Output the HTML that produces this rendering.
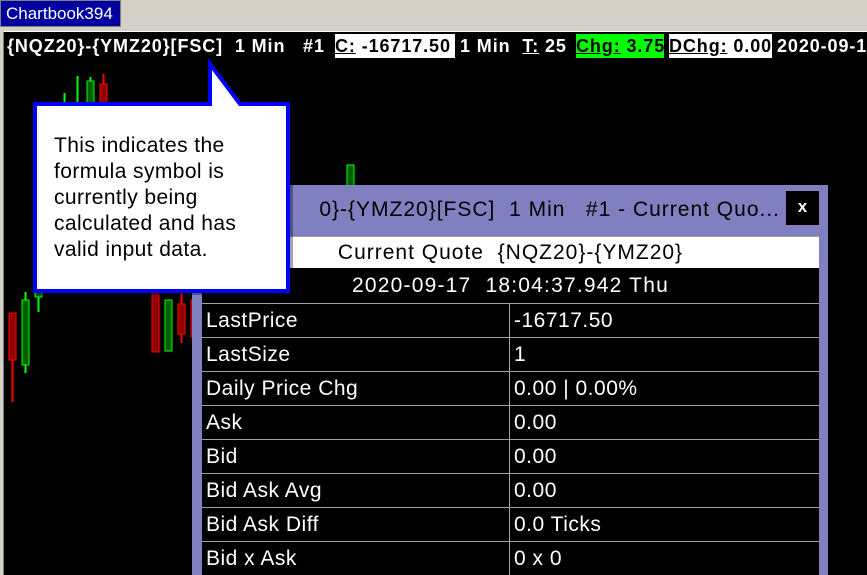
<!DOCTYPE html>
<html><head><meta charset="utf-8">
<style>
*{margin:0;padding:0;box-sizing:border-box}
body{width:867px;height:575px;overflow:hidden;background:#d4d0c8;position:relative;font-family:"Liberation Sans",sans-serif}
.abs{position:absolute}
#chart{left:3px;top:31px;width:864px;height:544px;background:#000;border-top:1px solid #fff;border-left:1px solid #808080}
.hd{position:absolute;top:34px;height:24px;font-weight:bold;font-size:18px;letter-spacing:0.9px;line-height:25px;white-space:pre;color:#fff;overflow:hidden}
.row{position:absolute;left:202px;width:617px;height:34px;border-top:1px solid #a0a0a0;color:#fff;font-size:21px;letter-spacing:0.5px;line-height:33px}
.row span{position:absolute;top:0}
</style></head><body>
<div class="abs" style="left:0;top:0;width:121px;height:27px;background:#0000a0;border:1px solid #808080;color:#fff;font-size:17px;line-height:25px;padding-left:5px">Chartbook394</div>
<div id="chart" class="abs"></div>
<svg class="abs" style="left:0;top:0" width="867" height="575" id="cs"></svg>
<div class="hd" style="left:7px">{NQZ20}-{YMZ20}[FSC]  1 Min   #1</div>
<div class="hd" style="left:335px;width:120px;background:#fff;color:#000"><u>C:</u> -16717.50</div>
<div class="hd" style="left:460px">1 Min  <u>T:</u> 25</div>
<div class="hd" style="left:576px;background:#00ff00;color:#000;width:88px"><u>Chg:</u> 3.75</div>
<div class="hd" style="left:669px;background:#fff;color:#000;width:103px"><u>DChg:</u> 0.00</div>
<div class="hd" style="left:777px">2020-09-17</div>

<div class="abs" style="left:192px;top:185px;width:636px;height:390px;background:#8080c0">
<div class="abs" style="left:0;top:0;width:594px;height:50px;overflow:hidden;white-space:pre;font-size:21px;letter-spacing:1px;line-height:50px;color:#000"><span style="position:absolute;right:6px;top:0">0}-{YMZ20}[FSC]  1 Min   #1 - Current Quo...</span></div>
<div class="abs" style="left:594px;top:6px;width:33px;height:34px;background:#000;color:#fff;font-weight:bold;font-size:17px;text-align:center;line-height:32px">x</div>
<div class="abs" style="left:10px;top:51px;width:617px;height:339px;background:#000"></div>
</div>
<div class="abs" style="left:202px;top:236px;width:617px;height:32px;background:#fff;color:#000;font-size:21px;letter-spacing:1px;line-height:32px;text-align:center;white-space:pre;border-top:1px solid #a0a0a0">Current Quote  {NQZ20}-{YMZ20}</div>
<div class="abs" style="left:202px;top:269px;width:617px;height:34px;color:#fff;font-size:21px;letter-spacing:1.2px;line-height:34px;text-align:center;white-space:pre">2020-09-17  18:04:37.942 Thu</div>
<div id="rows"></div>
<div class="abs" style="left:509px;top:303px;width:1px;height:272px;background:#a0a0a0"></div>

<svg class="abs" style="left:0;top:0" width="867" height="575">
<path d="M38,107 L293,107 L293,295 L38,295Z" fill="#000" opacity="0.35"/>
<path d="M35,104 L210,104 L210,64 L240,104 L288,104 L288,291 L35,291Z" fill="#fff" stroke="#0000ff" stroke-width="4"/>
</svg>
<div class="abs" style="left:54px;top:133px;font-size:21px;letter-spacing:0.4px;line-height:26px;color:#000">This indicates the<br>formula symbol is<br>currently being<br>calculated and has<br>valid input data.</div>

<script>
const labels=["LastPrice","LastSize","Daily Price Chg","Ask","Bid","Bid Ask Avg","Bid Ask Diff","Bid x Ask"];
const values=["-16717.50","1","0.00 | 0.00%","0.00","0.00","0.00","0.0 Ticks","0 x 0"];
const rc=document.getElementById('rows');
labels.forEach((l,i)=>{
  const r=document.createElement('div');r.className='row';
  
  
  r.style.top=(303+i*34)+'px';
  r.innerHTML='<span style="left:4px">'+l+'</span><span style="left:312px">'+values[i]+'</span>';
  rc.appendChild(r);
});
// candle data (price units); y = 500 - price
const barIndex=[0,1,2,4,5,6,7,11,12,13,14,26];
const opens =[187,135,203,300,300,300,416,230,149,196,200,300];
const closes=[140,200,230,330,320,419,300,148,200,166,163,335];
const highs =[187,208,230,407,424,423,426,230,200,208,200,335];
const lows  =[98,127,188,290,290,290,290,148,149,157,163,300];
const x=i=>12+i*13, y=p=>500-p;
const svg=document.getElementById('cs'),NS='http://www.w3.org/2000/svg';
barIndex.forEach((b,i)=>{
  const up=closes[i]>=opens[i],c=up?'#00ff00':'#ff0000',f=up?'#006000':'#900000';
  const cx=Math.round(x(b))+0.5;
  const w=document.createElementNS(NS,'line');
  
  
  w.setAttribute('x1',cx);w.setAttribute('x2',cx);w.setAttribute('y1',y(highs[i]));w.setAttribute('y2',y(lows[i]));
  w.setAttribute('stroke',c);w.setAttribute('stroke-width',2);svg.appendChild(w);
  const r=document.createElementNS(NS,'rect');
  
  
  const t=y(Math.max(opens[i],closes[i])),h=Math.abs(opens[i]-closes[i]);
  r.setAttribute('x',cx-3.5);r.setAttribute('y',t);r.setAttribute('width',7);r.setAttribute('height',Math.max(h,1));
  r.setAttribute('fill',f);r.setAttribute('stroke',c);svg.appendChild(r);
});
</script>
</body></html>
